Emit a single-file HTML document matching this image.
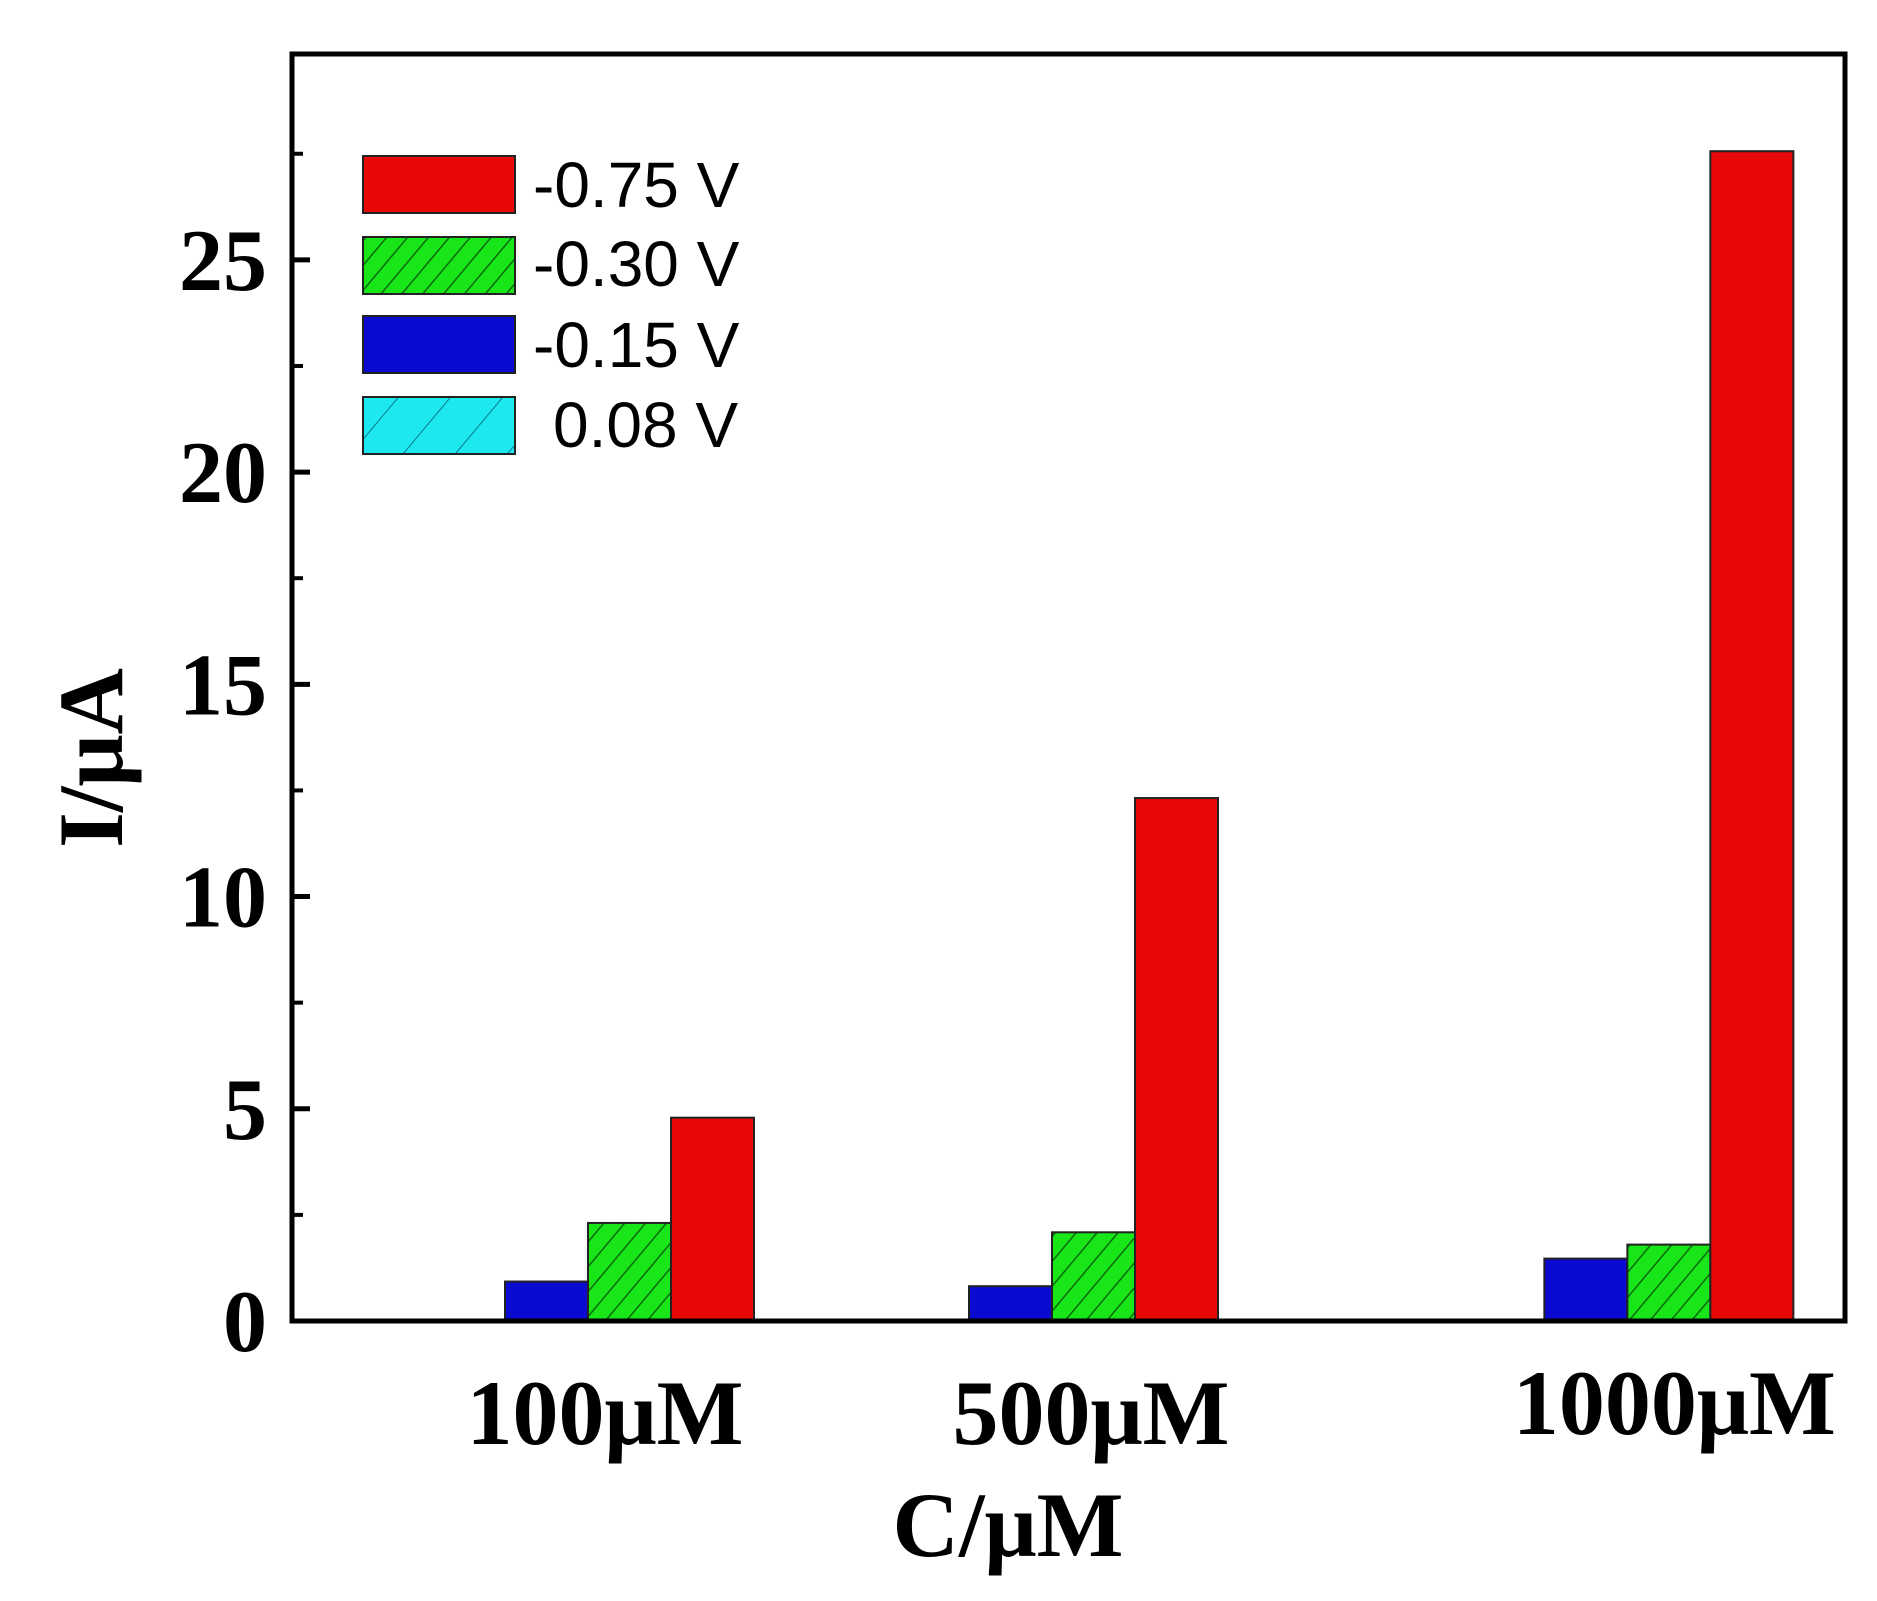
<!DOCTYPE html>
<html><head><meta charset="utf-8"><style>
html,body{margin:0;padding:0;background:#fff;}
svg{display:block;}
</style></head><body>
<svg id="chart" width="1877" height="1601" viewBox="0 0 1877 1601" xmlns="http://www.w3.org/2000/svg">
<defs>
<pattern id="hatchG" patternUnits="userSpaceOnUse" width="16" height="16" patternTransform="rotate(40)">
<rect width="16" height="16" fill="#19e619"/><line x1="0" y1="0" x2="0" y2="16" stroke="#0a6a0a" stroke-width="3"/></pattern>
<pattern id="hatchC" patternUnits="userSpaceOnUse" width="40" height="40" patternTransform="rotate(40)">
<rect width="40" height="40" fill="#1de8ef"/><line x1="0" y1="0" x2="0" y2="40" stroke="#0a7a88" stroke-width="2"/></pattern>
</defs>
<g id="bars"></g>
<g id="axes"></g>
<g id="legend"></g>
</svg>
<script>
const categories = ["100\u03bcM", "500\u03bcM", "1000\u03bcM"];
const groupX = [1, 2, 3.24];
const seriesNames = ["0.08 V", "-0.15 V", "-0.30 V", "-0.75 V"];
const v008 = [0.03, 0.03, 0.03];
const v015 = [0.93, 0.82, 1.47];
const v030 = [2.31, 2.09, 1.80];
const v075 = [4.79, 12.32, 27.56];
const yTicks = [0, 5, 10, 15, 20, 25];
const yMinor = [2.5, 7.5, 12.5, 17.5, 22.5, 27.5];

const NS = "http://www.w3.org/2000/svg";
const L = 292, R = 1845, T = 54, B = 1321;
const yMax = 29.85;
function yS(v){ return B - v / yMax * (B - T); }
function xS(v){ return 588 + (v - 1) * 464; }
const barW = 83;
const fills = ["url(#hatchC)", "#0a0ad0", "url(#hatchG)", "#e80808"];
const series = [v008, v015, v030, v075];
function mk(tag, attrs, parent){ const e=document.createElementNS(NS,tag); for(const k in attrs) e.setAttribute(k,attrs[k]); parent.appendChild(e); return e; }

const bars = document.getElementById('bars');
series.forEach((vals, si) => {
  vals.forEach((v, ci) => {
    const cx = xS(groupX[ci]);
    const x = cx + (si - 2) * barW;
    const r = mk('rect', {x:x, y:yS(v), width:barW, height:B - yS(v), fill:fills[si], stroke:'#222', 'stroke-width':2}, bars);
    
    
  });
});

const axes = document.getElementById('axes');
const frame = mk('rect', {x:L, y:T, width:R-L, height:B-T, fill:'none', stroke:'#000', 'stroke-width':5}, axes);


yTicks.forEach(t => {
  mk('line', {x1:L, x2:L+18, y1:yS(t), y2:yS(t), stroke:'#000', 'stroke-width':5}, axes);
  const tx = mk('text', {x:267, y:yS(t)+30, 'text-anchor':'end', 'font-family':'Liberation Serif, serif', 'font-weight':'bold', 'font-size':88, fill:'#000'}, axes);
  tx.textContent = t;
  
  
});
yMinor.forEach(t => { mk('line', {x1:L, x2:L+11, y1:yS(t), y2:yS(t), stroke:'#000', 'stroke-width':4}, axes); });
categories.forEach((c, i) => {
  const tx = mk('text', {x:xS(groupX[i]) + 17 + (i===1 ? 22 : 0) + (i===2 ? 30 : 0), y: i===2 ? 1434 : 1444, 'text-anchor':'middle', 'font-family':'Liberation Serif, serif', 'font-weight':'bold', 'font-size':92, fill:'#000'}, axes);
  tx.textContent = c;
  
  
});
const xt = mk('text', {x:1008, y:1556, 'text-anchor':'middle', 'font-family':'Liberation Serif, serif', 'font-weight':'bold', 'font-size':92, fill:'#000'}, axes);
xt.textContent = 'C/\u03bcM';


const yt = mk('text', {x:0, y:0, transform:'translate(122,758) rotate(-90)', 'text-anchor':'middle', 'font-family':'Liberation Serif, serif', 'font-weight':'bold', 'font-size':92, fill:'#000'}, axes);
yt.textContent = 'I/\u03bcA';



const leg = document.getElementById('legend');
const legOrder = [3, 2, 1, 0];
const boxY = [156, 237, 316, 397];
const textY = [207, 286, 367, 447];
legOrder.forEach((si, i) => {
  const b = mk('rect', {x:363, y:boxY[i], width:152, height:57, fill:fills[si], stroke:'#222', 'stroke-width':2}, leg);
  
  
  const tx = mk('text', {x: seriesNames[si].startsWith('-') ? 533 : 553, y:textY[i], 'font-family':'Liberation Sans, sans-serif', 'font-size':64, fill:'#000'}, leg);
  tx.textContent = seriesNames[si];
  
  
});
</script>
</body></html>
